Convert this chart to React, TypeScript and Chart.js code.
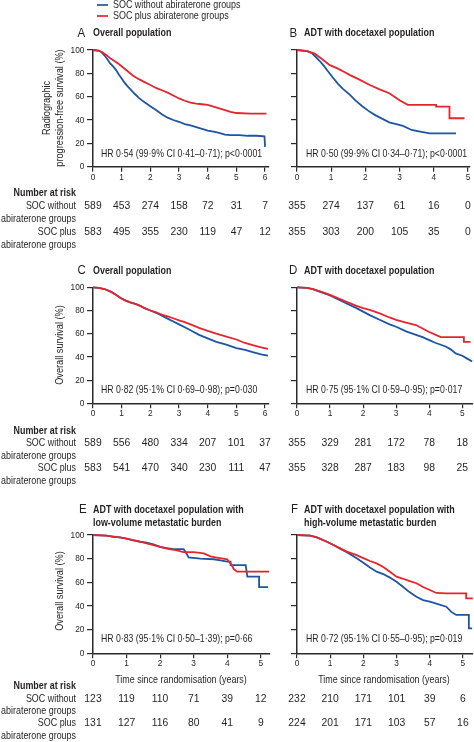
import { useEffect, useRef } from 'react';
import { Chart, registerables } from 'chart.js';

Chart.register(...registerables);

// ---------------- data ----------------
const SERIES = ['SOC without abiraterone groups', 'SOC plus abiraterone groups'];
const RISK_LABELS = ['Number at risk', 'SOC without', 'abiraterone groups', 'SOC plus', 'abiraterone groups'];
const X_TICKS_6 = [0, 1, 2, 3, 4, 5, 6];
const X_TICKS_5 = [0, 1, 2, 3, 4, 5];
const Y_TICKS = [0, 20, 40, 60, 80, 100];
const X_TITLE = 'Time since randomisation (years)';

// A: radiographic PFS, overall population
const aBlueT = [0, 0.2, 0.3, 0.4, 0.5, 0.6, 0.7, 0.8, 0.9, 1.0, 1.1, 1.2, 1.3, 1.45, 1.6, 1.75, 1.9, 2.05, 2.2, 2.4, 2.6, 2.8, 3.0, 3.2, 3.4, 3.6, 3.8, 4.0, 4.2, 4.4, 4.6, 4.8, 5.1, 5.4, 5.7, 5.98, 6.0, 6.03];
const aBlueS = [100, 99.5, 98, 95.5, 92, 88.5, 86, 83, 79, 75.5, 72, 69, 66.5, 62.5, 59, 56, 53.5, 51, 48.5, 45, 42, 40, 38.5, 36.5, 35.5, 34, 32.5, 31, 30, 29, 27.5, 27, 27, 26.5, 26.5, 26, 17, 17];
const aRedT = [0, 0.15, 0.3, 0.45, 0.6, 0.75, 0.9, 1.05, 1.2, 1.4, 1.6, 1.8, 2.0, 2.2, 2.4, 2.6, 2.8, 3.0, 3.2, 3.4, 3.6, 3.8, 4.0, 4.2, 4.4, 4.6, 4.8, 5.0, 5.5, 6.05];
const aRedS = [100, 99.5, 98.5, 96, 93, 90.5, 88, 85, 82, 78, 75, 72.5, 70, 67.5, 65.5, 63.5, 61, 58.5, 56.5, 55, 54, 53.5, 53, 51.5, 50, 48.5, 47, 46, 45.5, 45.5];
const aRiskWithout = [589, 453, 274, 158, 72, 31, 7];
const aRiskPlus = [583, 495, 355, 230, 119, 47, 12];

// B: radiographic PFS, ADT with docetaxel
const bBlueT = [0, 0.3, 0.45, 0.55, 0.65, 0.77, 0.9, 1.06, 1.2, 1.35, 1.55, 1.7, 1.9, 2.13, 2.3, 2.5, 2.7, 2.9, 3.1, 3.35, 3.6, 3.88, 4.2, 4.65];
const bBlueS = [100, 99, 97, 94, 91, 87, 82, 76, 71, 66.5, 61.5, 57, 52, 47, 44, 41, 38, 36.5, 35, 31.5, 30, 28.5, 28.5, 28.5];
const bRedT = [0, 0.3, 0.52, 0.7, 0.96, 1.2, 1.4, 1.55, 1.8, 2.13, 2.4, 2.7, 2.85, 3.0, 3.24, 3.6, 4.07, 4.07, 4.46, 4.46, 4.9];
const bRedS = [100, 99, 97, 93, 87, 84, 81, 78.5, 75, 70, 66.5, 63, 60, 57, 53, 53, 53, 51.5, 51.5, 41.5, 41.5];
const bRiskWithout = [355, 274, 137, 61, 16, 0];
const bRiskPlus = [355, 303, 200, 105, 35, 0];

// C: overall survival, overall population
const cBlueT = [0, 0.2, 0.4, 0.6, 0.8, 0.95, 1.1, 1.3, 1.5, 1.65, 1.8, 2.0, 2.2, 2.4, 2.6, 2.8, 3.0, 3.2, 3.4, 3.7, 4.0, 4.3, 4.65, 5.0, 5.3, 5.6, 5.9, 6.1];
const cBlueS = [100, 99.5, 98.5, 96.5, 93.5, 91, 89, 87, 85.5, 84, 82, 80, 78, 75.5, 73, 70.5, 68, 65.5, 63, 59, 56, 53, 50.5, 47.5, 46, 44, 42, 41];
const cRedT = [0, 0.2, 0.4, 0.6, 0.8, 0.95, 1.1, 1.3, 1.5, 1.65, 1.8, 2.0, 2.2, 2.4, 2.6, 2.8, 3.0, 3.2, 3.4, 3.7, 4.0, 4.3, 4.65, 5.0, 5.3, 5.6, 5.9, 6.1];
const cRedS = [100, 99.5, 98.5, 96.5, 93.5, 91, 89, 87, 85.5, 84, 82, 80, 78.5, 76.5, 75, 73.3, 71.5, 70, 68, 65, 62.5, 60, 57.5, 55, 52, 50, 48, 47];
const cRiskWithout = [589, 556, 480, 334, 207, 101, 37];
const cRiskPlus = [583, 541, 470, 340, 230, 111, 47];

// D: overall survival, ADT with docetaxel
const dBlueT = [0, 0.3, 0.48, 0.7, 1.0, 1.25, 1.5, 1.8, 2.0, 2.2, 2.5, 2.8, 3.0, 3.3, 3.6, 3.8, 4.0, 4.2, 4.5, 4.65, 4.8, 5.0, 5.15, 5.3];
const dBlueS = [100, 99.5, 98.5, 96, 93, 89.5, 86, 82, 79, 76, 72, 68, 66, 62, 59, 57, 54.5, 52, 49, 46.5, 43, 41, 38.5, 36];
const dRedT = [0, 0.3, 0.48, 0.7, 1.0, 1.25, 1.5, 1.8, 2.0, 2.2, 2.5, 2.8, 3.0, 3.3, 3.6, 3.8, 4.0, 4.2, 4.35, 5.05, 5.05, 5.25];
const dRedS = [100, 99.5, 98.5, 96.5, 93.5, 90.5, 87.5, 84, 82, 80.5, 77.5, 74, 72, 69.5, 67.5, 64.5, 61.5, 59, 57, 57, 53, 53];
const dRiskWithout = [355, 329, 281, 172, 78, 18];
const dRiskPlus = [355, 328, 287, 183, 98, 25];

// E: overall survival, low-volume
const eBlueT = [0, 0.4, 0.6, 0.8, 1.0, 1.2, 1.4, 1.6, 1.8, 2.0, 2.2, 2.4, 2.7, 2.75, 2.85, 3.2, 3.6, 3.8, 4.0, 4.1, 4.1, 4.55, 4.6, 4.95, 4.95, 5.22];
const eBlueS = [100, 99.5, 98.5, 98, 97, 95.5, 94.3, 93.5, 92, 90, 89, 88, 88, 86, 81, 80, 79.5, 78.5, 77.5, 77.5, 74.6, 74.6, 64.8, 64.8, 56, 56];
const eRedT = [0, 0.4, 0.8, 1.0, 1.4, 1.6, 2.0, 2.2, 2.5, 2.7, 3.0, 3.3, 3.5, 3.65, 4.0, 4.1, 4.2, 4.3, 5.25];
const eRedS = [100, 99.5, 98, 97, 94.3, 93, 90, 88.5, 87, 85.5, 85.5, 84.5, 82, 81, 79.5, 76, 71, 69, 69];
const eRiskWithout = [123, 119, 110, 71, 39, 12];
const eRiskPlus = [131, 127, 116, 80, 41, 9];

// F: overall survival, high-volume
const fBlueT = [0, 0.4, 0.6, 0.9, 1.1, 1.3, 1.5, 1.8, 2.0, 2.2, 2.4, 2.6, 2.8, 3.0, 3.2, 3.4, 3.6, 3.8, 4.0, 4.2, 4.5, 4.65, 4.8, 5.18, 5.18, 5.28];
const fBlueS = [100, 99.5, 98, 94.3, 91.5, 88.5, 85.5, 80.3, 76.5, 72.5, 69, 67, 64, 60.5, 56, 51.5, 47.8, 45, 43.6, 42, 39.4, 35, 32.4, 32.4, 21, 21];
const fRedT = [0, 0.4, 0.6, 0.9, 1.1, 1.3, 1.5, 1.8, 2.0, 2.2, 2.4, 2.6, 2.8, 3.0, 3.2, 3.4, 3.6, 3.8, 4.0, 4.2, 4.5, 5.1, 5.1, 5.3];
const fRedS = [100, 99.5, 98, 94.3, 91.5, 88.7, 86, 83, 80.5, 78, 76, 73, 69, 64.8, 63, 61, 59.2, 56, 53.5, 51, 50.7, 50.7, 46.5, 46.5];
const fRiskWithout = [232, 210, 171, 101, 39, 6];
const fRiskPlus = [224, 201, 171, 103, 57, 16];

// ---------------- styles / layout ----------------
const BLUE = '#1d55a3';
const RED = '#e4262c';
const AXIS = '#2b2b2b';
const TEXT = '#231f20';
const FAM = '"Liberation Sans", Arial, sans-serif';
const SX = 0.85; // horizontal condensing of text

type Rect = { x: number; y: number; w: number; h: number };
type Area = { l: number; r: number; t: number; b: number };
type Panel = {
  key: string;
  canvas: Rect;
  area: Area;
  xMax: number;
  xTicks: number[];
  yLabels: boolean;
  blue: [number[], number[]];
  red: [number[], number[]];
  letter: string;
  letterX: number;
  title: string[];
  titleX: number;
  titleY: number[];
  hr: string;
  hrX: number;
  hrY: number;
  riskWithout: number[];
  riskPlus: number[];
  riskY: number[];
  rowLabels: boolean;
  yTitle: string[];
  yTitleX: number[];
  yTitleY: number;
  xTitle?: string;
  xTitleX?: number;
  xTitleY?: number;
  legend?: boolean;
};

const PANELS: Panel[] = [
  {
    key: 'A', canvas: { x: 0, y: 0, w: 280, h: 250 }, area: { l: 93, r: 268.5, t: 50, b: 166.7 },
    xMax: 6.12, xTicks: X_TICKS_6, yLabels: true, blue: [aBlueT, aBlueS], red: [aRedT, aRedS],
    letter: 'A', letterX: 77.5, title: ['Overall population'], titleX: 93, titleY: [33.5],
    hr: 'HR 0·54 (99·9% CI 0·41–0·71); p<0·0001', hrX: 101, hrY: 154.5,
    riskWithout: aRiskWithout, riskPlus: aRiskPlus, riskY: [193, 206, 219, 232, 245], rowLabels: true,
    yTitle: ['Radiographic', 'progression-free survival (%)'], yTitleX: [47, 60], yTitleY: 108, legend: true,
  },
  {
    key: 'B', canvas: { x: 275, y: 0, w: 199, h: 250 }, area: { l: 297, r: 470, t: 50, b: 166.7 },
    xMax: 5.06, xTicks: X_TICKS_5, yLabels: false, blue: [bBlueT, bBlueS], red: [bRedT, bRedS],
    letter: 'B', letterX: 289.5, title: ['ADT with docetaxel population'], titleX: 304, titleY: [33.5],
    hr: 'HR 0·50 (99·9% CI 0·34–0·71); p<0·0001', hrX: 306, hrY: 154.5,
    riskWithout: bRiskWithout, riskPlus: bRiskPlus, riskY: [193, 206, 219, 232, 245], rowLabels: false,
    yTitle: [], yTitleX: [], yTitleY: 108,
  },
  {
    key: 'C', canvas: { x: 0, y: 250, w: 280, h: 250 }, area: { l: 93, r: 268.5, t: 287.3, b: 403.3 },
    xMax: 6.12, xTicks: X_TICKS_6, yLabels: true, blue: [cBlueT, cBlueS], red: [cRedT, cRedS],
    letter: 'C', letterX: 77.5, title: ['Overall population'], titleX: 93, titleY: [271],
    hr: 'HR 0·82 (95·1% CI 0·69–0·98); p=0·030', hrX: 101, hrY: 390,
    riskWithout: cRiskWithout, riskPlus: cRiskPlus, riskY: [430.7, 443.3, 456, 468.3, 480.7], rowLabels: true,
    yTitle: ['Overall survival (%)'], yTitleX: [60], yTitleY: 345,
  },
  {
    key: 'D', canvas: { x: 275, y: 250, w: 199, h: 250 }, area: { l: 297, r: 472.5, t: 287.3, b: 403.3 },
    xMax: 5.31, xTicks: X_TICKS_5, yLabels: false, blue: [dBlueT, dBlueS], red: [dRedT, dRedS],
    letter: 'D', letterX: 289, title: ['ADT with docetaxel population'], titleX: 304, titleY: [271],
    hr: 'HR 0·75 (95·1% CI 0·59–0·95); p=0·017', hrX: 306, hrY: 390,
    riskWithout: dRiskWithout, riskPlus: dRiskPlus, riskY: [430.7, 443.3, 456, 468.3, 480.7], rowLabels: false,
    yTitle: [], yTitleX: [], yTitleY: 345,
  },
  {
    key: 'E', canvas: { x: 0, y: 500, w: 280, h: 242 }, area: { l: 93, r: 269.5, t: 535, b: 653.3 },
    xMax: 5.26, xTicks: X_TICKS_5, yLabels: true, blue: [eBlueT, eBlueS], red: [eRedT, eRedS],
    letter: 'E', letterX: 79, title: ['ADT with docetaxel population with', 'low-volume metastatic burden'], titleX: 93, titleY: [510, 523],
    hr: 'HR 0·83 (95·1% CI 0·50–1·39); p=0·66', hrX: 101, hrY: 639,
    riskWithout: eRiskWithout, riskPlus: eRiskPlus, riskY: [686, 699, 711, 723.3, 736], rowLabels: true,
    yTitle: ['Overall survival (%)'], yTitleX: [60], yTitleY: 591,
    xTitle: X_TITLE, xTitleX: 181, xTitleY: 680,
  },
  {
    key: 'F', canvas: { x: 275, y: 500, w: 199, h: 242 }, area: { l: 297, r: 472.5, t: 535, b: 653.3 },
    xMax: 5.29, xTicks: X_TICKS_5, yLabels: false, blue: [fBlueT, fBlueS], red: [fRedT, fRedS],
    letter: 'F', letterX: 291, title: ['ADT with docetaxel population with', 'high-volume metastatic burden'], titleX: 304, titleY: [510, 523],
    hr: 'HR 0·72 (95·1% CI 0·55–0·95); p=0·019', hrX: 306, hrY: 639,
    riskWithout: fRiskWithout, riskPlus: fRiskPlus, riskY: [686, 699, 711, 723.3, 736], rowLabels: false,
    yTitle: [], yTitleX: [], yTitleY: 591,
    xTitle: X_TITLE, xTitleX: 384, xTitleY: 680,
  },
];

function txt(ctx: CanvasRenderingContext2D, s: string, x: number, y: number, align: CanvasTextAlign, font: string, sx = SX, rot = 0) {
  ctx.save();
  ctx.font = font;
  ctx.textAlign = align;
  ctx.textBaseline = 'middle';
  ctx.translate(x, y);
  if (rot) ctx.rotate(rot);
  ctx.scale(sx, 1);
  ctx.fillText(s, 0, 0);
  ctx.restore();
}

function drawPanelText(chart: any, p: Panel) {
  const ctx: CanvasRenderingContext2D = chart.ctx;
  const ox = p.canvas.x;
  const oy = p.canvas.y;
  const xs = chart.scales.x;
  const ys = chart.scales.y;
  const ca = chart.chartArea;
  ctx.save();
  ctx.fillStyle = TEXT;

  // tick labels
  const tickFont = `9.8px ${FAM}`;
  p.xTicks.forEach((v) => txt(ctx, String(v), xs.getPixelForValue(v), ca.bottom + 10.3, 'center', tickFont, 0.85));
  if (p.yLabels) {
    Y_TICKS.forEach((v) => txt(ctx, String(v), ca.left - 8.5, ys.getPixelForValue(v), 'right', tickFont, 0.85));
  }

  // panel letter + title
  txt(ctx, p.letter, p.letterX - ox, p.titleY[0] - oy, 'left', `12.5px ${FAM}`, 0.92);
  p.title.forEach((t, i) => txt(ctx, t, p.titleX - ox, p.titleY[i] - oy, 'left', `bold 10.5px ${FAM}`));

  // HR text
  txt(ctx, p.hr, p.hrX - ox, p.hrY - oy, 'left', `10.5px ${FAM}`, 0.83);

  // y-axis title
  p.yTitle.forEach((t, i) => txt(ctx, t, p.yTitleX[i] - ox, p.yTitleY - oy, 'center', `10.8px ${FAM}`, SX, -Math.PI / 2));

  // x-axis title
  if (p.xTitle) txt(ctx, p.xTitle, (p.xTitleX as number) - ox, (p.xTitleY as number) - oy, 'center', `10.5px ${FAM}`);

  // numbers at risk
  const riskFont = `11.5px ${FAM}`;
  p.riskWithout.forEach((n, i) => txt(ctx, String(n), xs.getPixelForValue(p.xTicks[i]), p.riskY[1] - oy, 'center', riskFont, 0.9));
  p.riskPlus.forEach((n, i) => txt(ctx, String(n), xs.getPixelForValue(p.xTicks[i]), p.riskY[3] - oy, 'center', riskFont, 0.9));

  if (p.rowLabels) {
    RISK_LABELS.forEach((t, i) => txt(ctx, t, 76 - ox, p.riskY[i] - oy, 'right', i === 0 ? `bold 10.5px ${FAM}` : `10.5px ${FAM}`));
  }

  if (p.legend) {
    const colors = [BLUE, RED];
    const ly = [5, 16];
    SERIES.forEach((s, i) => {
      ctx.strokeStyle = colors[i];
      ctx.lineWidth = 1.7;
      ctx.beginPath();
      ctx.moveTo(97 - ox, ly[i] - oy);
      ctx.lineTo(108 - ox, ly[i] - oy);
      ctx.stroke();
      txt(ctx, s, 113 - ox, ly[i] - oy, 'left', `10.5px ${FAM}`);
    });
  }
  ctx.restore();
}

function makeChart(canvas: HTMLCanvasElement, p: Panel) {
  const yW = p.yLabels ? 30 : 10;
  const xH = 22;
  const padding = {
    left: p.area.l - p.canvas.x - yW,
    right: p.canvas.x + p.canvas.w - p.area.r,
    top: p.area.t - p.canvas.y,
    bottom: p.canvas.y + p.canvas.h - p.area.b - xH,
  };
  const toPts = (t: number[], s: number[]) => t.map((x, i) => ({ x, y: s[i] }));
  return new Chart(canvas, {
    type: 'line',
    data: {
      datasets: [
        { label: SERIES[0], data: toPts(p.blue[0], p.blue[1]), borderColor: BLUE, backgroundColor: BLUE, borderWidth: 1.8, pointRadius: 0, tension: 0, clip: false as any, order: 2 },
        { label: SERIES[1], data: toPts(p.red[0], p.red[1]), borderColor: RED, backgroundColor: RED, borderWidth: 1.8, pointRadius: 0, tension: 0, clip: false as any, order: 1 },
      ],
    },
    options: {
      animation: false,
      responsive: false,
      maintainAspectRatio: false,
      devicePixelRatio: 1,
      events: [],
      layout: { padding },
      plugins: { legend: { display: false }, tooltip: { enabled: false }, title: { display: false } },
      scales: {
        x: {
          type: 'linear',
          min: 0,
          max: p.xMax,
          afterFit: (s: any) => { s.height = xH; },
          afterBuildTicks: (s: any) => { s.ticks = p.xTicks.map((v) => ({ value: v })); },
          grid: { drawOnChartArea: false, drawTicks: true, tickLength: 5, color: AXIS, lineWidth: 1.2 },
          border: { display: true, color: AXIS, width: 1.5 },
          ticks: { display: false },
        },
        y: {
          type: 'linear',
          min: 0,
          max: 100,
          afterFit: (s: any) => { s.width = yW; },
          afterBuildTicks: (s: any) => { s.ticks = Y_TICKS.map((v) => ({ value: v })); },
          grid: { drawOnChartArea: false, drawTicks: true, tickLength: 6, color: AXIS, lineWidth: 1.2 },
          border: { display: true, color: AXIS, width: 1.5 },
          ticks: { display: false },
        },
      },
    },
    plugins: [{ id: 'panelText' + p.key, afterDraw: (chart: any) => drawPanelText(chart, p) }],
  } as any);
}

export default function App() {
  const refs = useRef<(HTMLCanvasElement | null)[]>([]);
  useEffect(() => {
    const charts = PANELS.map((p, i) => makeChart(refs.current[i] as HTMLCanvasElement, p));
    return () => charts.forEach((c) => c.destroy());
  }, []);
  return (
    <div style={{ position: 'absolute', left: 0, top: 0, width: 474, height: 742, background: '#fff', overflow: 'hidden' }}>
      {PANELS.map((p, i) => (
        <canvas
          key={p.key}
          ref={(el) => { refs.current[i] = el; }}
          width={p.canvas.w}
          height={p.canvas.h}
          style={{ position: 'absolute', left: p.canvas.x, top: p.canvas.y, width: p.canvas.w, height: p.canvas.h }}
        />
      ))}
    </div>
  );
}
